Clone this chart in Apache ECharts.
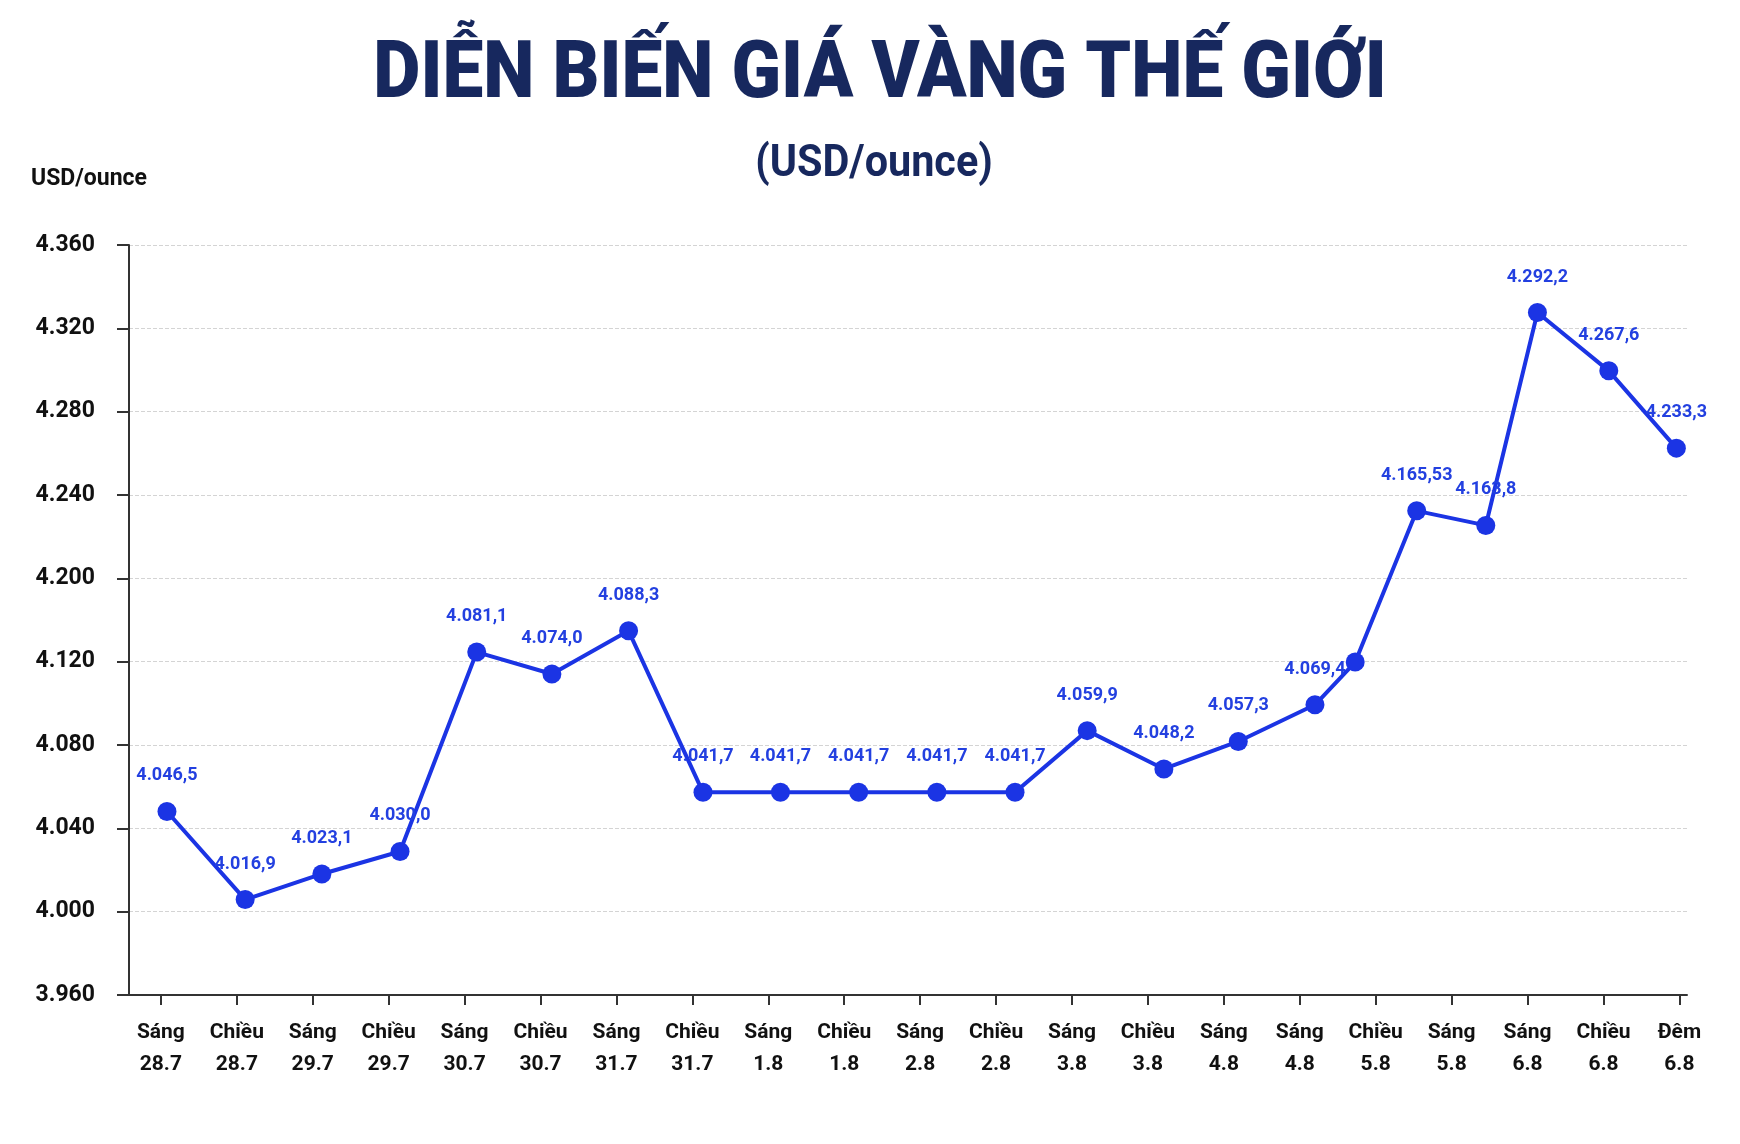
<!DOCTYPE html>
<html>
<head>
<meta charset="utf-8">
<title>Diễn biến giá vàng thế giới</title>
<script src="https://cdn.jsdelivr.net/npm/echarts@6/dist/echarts.min.js"></script>
<style>
  html, body { margin: 0; padding: 0; background: #fff; }
  #main { width: 1740px; height: 1144px; }
</style>
</head>
<body>
<div id="main"></div>
<script>
// nhãn trục hoành (buổi + ngày)
var xLabels = ['Sáng\n28.7', 'Chiều\n28.7', 'Sáng\n29.7', 'Chiều\n29.7', 'Sáng\n30.7', 'Chiều\n30.7',
    'Sáng\n31.7', 'Chiều\n31.7', 'Sáng\n1.8', 'Chiều\n1.8', 'Sáng\n2.8', 'Chiều\n2.8', 'Sáng\n3.8',
    'Chiều\n3.8', 'Sáng\n4.8', 'Sáng\n4.8', 'Chiều\n5.8', 'Sáng\n5.8', 'Sáng\n6.8', 'Chiều\n6.8', 'Đêm\n6.8'];

// nhãn trục tung, đúng như trên hình
var yTicks = ['3.960', '4.000', '4.040', '4.080', '4.120', '4.200', '4.240', '4.280', '4.320', '4.360'];

// vị trí các điểm dọc theo trục thời gian (đơn vị = ô nhãn)
var xSlots = [0.08, 1.11, 2.12, 3.15, 4.16, 5.15, 6.16, 7.14, 8.16, 9.19, 10.22,
    11.25, 12.2, 13.21, 14.19, 15.2, 15.73, 16.54, 17.45, 18.13, 19.07, 19.96];

// độ cao các điểm đọc theo lưới trục tung
var yLevels = [4048.1, 4005.8, 4018.1, 4028.9, 4124.6, 4114.1, 4134.8, 4057.3, 4057.3, 4057.3, 4057.3,
    4057.3, 4086.9, 4068.5, 4081.7, 4099.3, 4119.8, 4192.4, 4185.4, 4287.6, 4259.6, 4222.5];

// giá ghi trên từng điểm
var priceLabels = ['4.046,5', '4.016,9', '4.023,1', '4.030,0', '4.081,1', '4.074,0', '4.088,3',
    '4.041,7', '4.041,7', '4.041,7', '4.041,7', '4.041,7', '4.059,9', '4.048,2', '4.057,3',
    '4.069,4', '', '4.165,53', '4.163,8', '4.292,2', '4.267,6', '4.233,3'];

var blue = '#1b34e4';
var navy = '#17285e';

var myChart = echarts.init(document.getElementById('main'));

var option = {
    backgroundColor: '#fff',
    title: {
        text: 'USD/ounce',
        left: 26,
        top: 163,
        textStyle: { fontFamily: 'Roboto', fontWeight: 'bold', fontSize: 23, color: '#111' }
    },
    // tiêu đề dùng chữ hẹp (co ngang) cho giống bản gốc
    graphic: [
        {
            type: 'text',
            x: 880,
            y: 77,
            scaleX: 0.91,
            style: {
                text: 'DIỄN BIẾN GIÁ VÀNG THẾ GIỚI',
                fontFamily: 'Roboto',
                fontWeight: 900,
                fontSize: 80,
                fill: navy,
                align: 'center',
                verticalAlign: 'middle'
            }
        },
        {
            type: 'text',
            x: 874,
            y: 165,
            scaleX: 0.94,
            style: {
                text: '(USD/ounce)',
                fontFamily: 'Roboto',
                fontWeight: 'bold',
                fontSize: 44,
                fill: navy,
                align: 'center',
                verticalAlign: 'middle'
            }
        }
    ],
    grid: {
        left: 129,
        right: 53,
        top: 245,
        bottom: 149
    },
    xAxis: {
        type: 'value',
        min: -0.42,
        max: 20.1,
        splitLine: { show: false },
        axisLine: { onZero: false, lineStyle: { color: '#333', width: 2 } },
        axisTick: {
            customValues: xLabels.map(function (s, i) { return i; }),
            length: 10,
            lineStyle: { color: '#333', width: 2 }
        },
        axisLabel: {
            customValues: xLabels.map(function (s, i) { return i; }),
            formatter: function (v) { return xLabels[Math.round(v)]; },
            margin: 22,
            fontFamily: 'Roboto',
            fontWeight: 'bold',
            fontSize: 21,
            lineHeight: 32,
            color: '#111'
        }
    },
    yAxis: {
        type: 'value',
        min: 3960,
        max: 4320,
        interval: 40,
        axisLine: { show: true, onZero: false, lineStyle: { color: '#333', width: 2 } },
        axisTick: { show: true, length: 12, lineStyle: { color: '#333', width: 2 } },
        axisLabel: {
            formatter: function (v) { return yTicks[Math.round((v - 3960) / 40)]; },
            margin: 34,
            fontFamily: 'Roboto',
            fontWeight: 'bold',
            fontSize: 23,
            color: '#111'
        },
        splitLine: { lineStyle: { color: '#d4d4d4', type: 'dashed', width: 1 } }
    },
    series: [
        {
            type: 'line',
            data: xSlots.map(function (x, i) { return [x, yLevels[i]]; }),
            symbol: 'circle',
            symbolSize: 19,
            lineStyle: { color: blue, width: 4 },
            itemStyle: { color: blue },
            label: {
                show: true,
                position: 'top',
                distance: 17,
                formatter: function (p) { return priceLabels[p.dataIndex]; },
                fontFamily: 'Roboto',
                fontWeight: 'bold',
                fontSize: 18,
                color: '#2340e0'
            },
            animation: false
        }
    ]
};

myChart.setOption(option);
</script>
</body>
</html>
